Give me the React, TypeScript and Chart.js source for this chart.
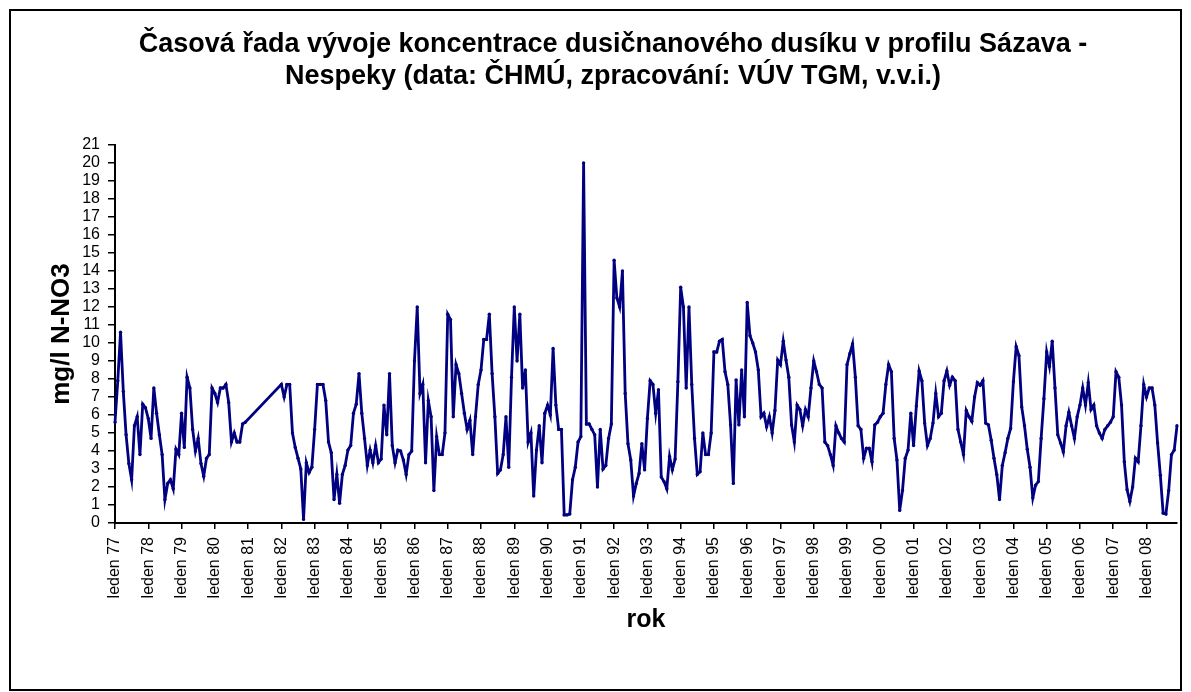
import React, { useEffect, useRef } from 'react';
import { Chart, registerables } from 'chart.js';

Chart.register(...registerables);

const FONT = '"Liberation Sans", Arial, Helvetica, sans-serif';

const TITLE_LINES = [
  'Časová řada vývoje koncentrace dusičnanového dusíku v profilu Sázava -',
  'Nespeky (data: ČHMÚ, zpracování: VÚV TGM, v.v.i.)',
];
const Y_TITLE = 'mg/l N-NO3';
const X_TITLE = 'rok';

const YEARS = [
  '77', '78', '79', '80', '81', '82', '83', '84', '85', '86', '87', '88', '89', '90', '91', '92',
  '93', '94', '95', '96', '97', '98', '99', '00', '01', '02', '03', '04', '05', '06', '07', '08',
];
const MONTHS = [
  'leden', 'únor', 'březen', 'duben', 'květen', 'červen',
  'červenec', 'srpen', 'září', 'říjen', 'listopad', 'prosinec',
];

// monthly values (mg/l N-NO3), one array per year
const V1977 = [5.6, 7.9, 10.6, 7.3, 4.9, 3.3, 2.4, 5.4, 5.9, 3.8, 6.6, 6.4];
const V1978 = [5.8, 4.7, 7.5, 6.1, 4.9, 3.8, 1.3, 2.2, 2.4, 1.9, 4.1, 3.8];
const V1979 = [6.1, 4.2, 8.1, 7.5, 5.2, 4.0, 4.7, 3.3, 2.6, 3.6, 3.8, 7.5];
const V1980 = [7.2, 6.7, 7.5, 7.5, 7.7, 6.7, 4.5, 5.0, 4.5, 4.5, 5.5, 5.6];
const V1981 = [null, null, null, null, null, null, null, null, null, null, null, null];
const V1982 = [7.7, 7.0, 7.7, 7.7, 5.0, 4.2, 3.6, 3.0, 0.2, 3.35, 2.8, 3.1];
const V1983 = [5.2, 7.7, 7.7, 7.7, 6.8, 4.5, 3.9, 1.3, 2.7, 1.1, 2.7, 3.2];
const V1984 = [4.05, 4.3, 6.1, 6.6, 8.3, 6.1, 4.7, 3.2, 4.05, 3.35, 4.3, 3.35];
const V1985 = [3.55, 6.55, 4.9, 8.3, 4.3, 3.35, 4.05, 4.0, 3.5, 2.7, 3.8, 4.0];
const V1986 = [9.0, 12.0, 7.2, 7.7, 3.35, 6.8, 5.9, 1.8, 4.8, 3.8, 3.8, 5.0];
const V1987 = [11.6, 11.3, 5.9, 8.8, 8.3, 7.2, 6.1, 5.2, 5.7, 3.8, 5.9, 7.7];
const V1988 = [8.5, 10.2, 10.2, 11.6, 8.3, 5.9, 2.75, 2.95, 3.8, 5.9, 3.1, 8.1];
const V1989 = [12.0, 9.0, 11.6, 7.5, 8.5, 4.5, 5.0, 1.5, 4.05, 5.4, 3.35, 6.1];
const V1990 = [6.55, 6.0, 9.7, 6.55, 5.2, 5.2, 0.45, 0.45, 0.5, 2.4, 3.1, 4.5];
const V1991 = [4.8, 20.0, 5.5, 5.5, 5.2, 4.9, 2.0, 5.2, 3.0, 3.2, 4.7, 5.5];
const V1992 = [14.6, 12.5, 12.0, 14.0, 7.2, 4.4, 3.5, 1.5, 2.2, 2.75, 4.4, 2.95];
const V1993 = [5.8, 7.9, 7.7, 6.1, 7.4, 2.55, 2.3, 1.9, 3.7, 2.95, 3.55, 7.85];
const V1994 = [13.1, 12.0, 7.5, 12.0, 7.7, 4.7, 2.7, 2.85, 5.0, 3.8, 3.8, 5.0];
const V1995 = [9.5, 9.5, 10.1, 10.2, 8.4, 7.7, 5.45, 2.2, 7.95, 5.45, 8.5, 5.9];
const V1996 = [12.25, 10.4, 10.0, 9.5, 8.5, 5.9, 6.1, 5.35, 5.9, 5.0, 6.25, 9.05];
const V1997 = [8.8, 10.1, 9.05, 8.1, 5.45, 4.5, 6.55, 6.3, 5.4, 6.3, 5.9, 7.5];
const V1998 = [9.0, 8.4, 7.7, 7.5, 4.5, 4.3, 3.8, 3.2, 5.4, 5.0, 4.7, 4.5];
const V1999 = [8.8, 9.4, 9.95, 8.1, 5.4, 5.2, 3.6, 4.15, 4.15, 3.4, 5.45, 5.6];
const V2000 = [5.9, 6.1, 7.7, 8.8, 8.4, 4.7, 3.5, 0.7, 1.8, 3.6, 4.05, 6.1];
const V2001 = [4.3, 6.5, 8.45, 7.9, 5.55, 4.3, 4.7, 5.55, 7.2, 5.9, 6.1, 7.9];
const V2002 = [8.45, 7.65, 8.1, 7.9, 5.2, 4.5, 3.8, 6.25, 5.9, 5.65, 7.0, 7.8];
const V2003 = [7.65, 7.9, 5.55, 5.45, 4.6, 3.6, 2.7, 1.3, 3.2, 3.9, 4.7, 5.25];
const V2004 = [7.85, 9.8, 9.3, 6.45, 5.4, 4.1, 3.1, 1.4, 2.1, 2.3, 4.7, 6.9];
const V2005 = [9.5, 8.7, 10.1, 7.5, 4.9, 4.45, 3.95, 5.4, 6.15, 5.4, 4.7, 5.9];
const V2006 = [6.55, 7.5, 6.55, 7.8, 6.3, 6.55, 5.4, 5.0, 4.7, 5.2, 5.4, 5.6];
const V2007 = [5.9, 8.4, 8.1, 6.55, 3.4, 1.85, 1.2, 2.0, 3.6, 3.4, 5.4, 7.7];
const V2008 = [7.0, 7.5, 7.5, 6.55, 4.45, 2.65, 0.55, 0.5, 1.8, 3.8, 4.05, 5.4];

const VALUES: (number | null)[] = [
  ...V1977, ...V1978, ...V1979, ...V1980, ...V1981, ...V1982, ...V1983, ...V1984,
  ...V1985, ...V1986, ...V1987, ...V1988, ...V1989, ...V1990, ...V1991, ...V1992,
  ...V1993, ...V1994, ...V1995, ...V1996, ...V1997, ...V1998, ...V1999, ...V2000,
  ...V2001, ...V2002, ...V2003, ...V2004, ...V2005, ...V2006, ...V2007, ...V2008,
];

const LABELS: string[] = [];
YEARS.forEach((yy) => MONTHS.forEach((m) => LABELS.push(`${m} ${yy}`)));

const Y_MIN = 0;
const Y_MAX = 21;

export default function App() {
  const canvasRef = useRef<HTMLCanvasElement | null>(null);

  useEffect(() => {
    document.body.style.margin = '0';
    const canvas = canvasRef.current;
    if (!canvas) return;
    Chart.defaults.font.family = FONT;
    const chart = new Chart(canvas, {
      type: 'line',
      data: {
        labels: LABELS,
        datasets: [
          {
            data: VALUES,
            borderColor: '#000080',
            backgroundColor: '#000080',
            borderWidth: 2.8,
            pointRadius: 1.7,
            pointHoverRadius: 1.7,
            pointBorderWidth: 0,
            pointBackgroundColor: '#000080',
            spanGaps: true,
            tension: 0,
          },
        ],
      },
      options: {
        responsive: false,
        animation: false,
        devicePixelRatio: 1,
        layout: { padding: { left: 49, right: 14, top: 0, bottom: 30 } },
        plugins: {
          legend: { display: false },
          tooltip: { enabled: false },
          title: {
            display: true,
            text: TITLE_LINES,
            color: '#000',
            font: { family: FONT, size: 27, weight: 'bold', lineHeight: 32 / 27 },
            padding: { top: 29, bottom: 52 },
          },
        },
        scales: {
          x: {
            type: 'category',
            offset: false,
            grid: {
              display: true,
              drawOnChartArea: false,
              drawTicks: true,
              tickLength: 6,
              color: '#000',
              lineWidth: 1.5,
            },
            border: { display: true, color: '#000', width: 2 },
            ticks: {
              autoSkip: false,
              minRotation: 90,
              maxRotation: 90,
              padding: 8,
              color: '#000',
              font: { family: FONT, size: 16 },
            },
            afterBuildTicks: (scale: any) => {
              scale.ticks = scale.ticks.filter((t: any) => t.value % MONTHS.length === 0);
            },
            afterFit: (scale: any) => {
              scale.height = 139;
            },
            title: {
              display: true,
              text: X_TITLE,
              color: '#000',
              font: { family: FONT, size: 25, weight: 'bold', lineHeight: 1.2 },
              padding: { top: 0, bottom: 27 },
            },
          },
          y: {
            min: Y_MIN,
            max: Y_MAX,
            ticks: {
              stepSize: 1,
              autoSkip: false,
              color: '#000',
              padding: 8,
              font: { family: FONT, size: 16 },
            },
            grid: {
              display: true,
              drawOnChartArea: false,
              drawTicks: true,
              tickLength: 7,
              color: '#000',
              lineWidth: 1.5,
            },
            border: { display: true, color: '#000', width: 2 },
            afterFit: (scale: any) => {
              scale.width = 66;
            },
            title: {
              display: true,
              text: Y_TITLE,
              color: '#000',
              font: { family: FONT, size: 26, weight: 'bold', lineHeight: 1.0 },
              padding: 0,
            },
          },
        },
      },
    });
    return () => chart.destroy();
  }, []);

  return (
    <div style={{ position: 'relative', width: 1191, height: 692, background: '#fff' }}>
      <canvas ref={canvasRef} width={1191} height={692} style={{ position: 'absolute', left: 0, top: 0 }} />
      <div
        style={{
          position: 'absolute',
          left: 9,
          top: 9,
          width: 1173,
          height: 682,
          border: '2px solid #000',
          boxSizing: 'border-box',
          pointerEvents: 'none',
        }}
      />
    </div>
  );
}
